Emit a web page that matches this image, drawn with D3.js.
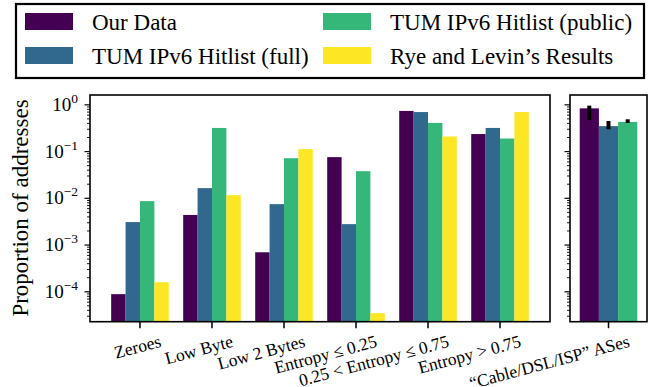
<!DOCTYPE html>
<html>
<head>
<meta charset="utf-8">
<script src="https://cdn.jsdelivr.net/npm/d3@7"></script>
<style>
  body { margin: 0; background: #fff; }
  svg { display: block; }
  text { font-family: 'Times New Roman', Times, 'Liberation Serif', Tinos, 'Nimbus Roman', FreeSerif, 'Noto Serif', 'DejaVu Serif', serif; }
</style>
</head>
<body>
<svg id="chart" width="658" height="387"></svg>
<script>
// series names + viridis colours
const series = ["Our Data", "TUM IPv6 Hitlist (full)", "TUM IPv6 Hitlist (public)", "Rye and Levin\u2019s Results"];
const colors = ["#440154", "#31688e", "#35b779", "#fde725"];

// left panel categories
const categories = ["Zeroes", "Low Byte", "Low 2 Bytes", "Entropy \u2264 0.25", "0.25 < Entropy \u2264 0.75", "Entropy > 0.75"];

// values per series
const ourData   = [8.9e-5, 4.4e-3, 7.0e-4, 0.076, 0.74, 0.237];
const tumFull   = [3.1e-3, 0.0165, 7.5e-3, 2.8e-3, 0.70, 0.32];
const tumPublic = [8.7e-3, 0.32, 0.072, 0.038, 0.41, 0.19];
const ryeLevin  = [1.6e-4, 0.0117, 0.113, 3.5e-5, 0.21, 0.70];

// right panel: one category, three series with error bars
const rightCategory = "\u201cCable/DSL/ISP\u201d ASes";
const rightValues = [0.84, 0.35, 0.43];
const rightLow    = [0.47, 0.30, 0.41];
const rightHigh   = [0.96, 0.45, 0.49];

const yTickLabels = ["0", "\u22121", "\u22122", "\u22123", "\u22124"];

const svg = d3.select("#chart");

// layout
const plotTop = 95, plotBottom = 321.7;
const left1 = 90, right1 = 550;
const left2 = 570, right2 = 647;

const y = d3.scaleLog().domain([Math.pow(10, -4.64), Math.pow(10, 0.21)]).range([plotBottom, plotTop]);
const x1 = d3.scaleLinear().domain([-0.694, 5.694]).range([left1, right1]);
const x2 = d3.scaleLinear().domain([-0.535, 0.535]).range([left2, right2]);

const allSeries = [ourData, tumFull, tumPublic, ryeLevin];
const bw1 = 0.2;
const bars1 = [];
allSeries.forEach((vals, s) => {
  vals.forEach((v, i) => bars1.push({ s, i, v, x: i + (s - 1.5) * bw1 }));
});

svg.append("g").selectAll("rect")
  .data(bars1)
  .enter().append("rect")
    .attr("x", d => x1(d.x - bw1 / 2))
    .attr("width", d => x1(d.x + bw1 / 2) - x1(d.x - bw1 / 2))
    .attr("y", d => y(d.v))
    .attr("height", d => plotBottom - y(d.v))
    .attr("fill", d => colors[d.s]);

const bw2 = 0.8 / 3;
const bars2 = rightValues.map((v, s) => ({ s, v, lo: rightLow[s], hi: rightHigh[s], x: (s - 1) * bw2 }));

svg.append("g").selectAll("rect")
  .data(bars2)
  .enter().append("rect")
    .attr("x", d => x2(d.x - bw2 / 2))
    .attr("width", d => x2(d.x + bw2 / 2) - x2(d.x - bw2 / 2))
    .attr("y", d => y(d.v))
    .attr("height", d => plotBottom - y(d.v))
    .attr("fill", d => colors[d.s]);

svg.append("g").selectAll("line")
  .data(bars2)
  .enter().append("line")
    .attr("x1", d => x2(d.x)).attr("x2", d => x2(d.x))
    .attr("y1", d => y(d.lo)).attr("y2", d => y(d.hi))
    .attr("stroke", "#000").attr("stroke-width", 4);

// log ticks
const [dmin, dmax] = y.domain();
const majors = [], minors = [];
for (let k = -5; k <= 0; k++) {
  const b = Math.pow(10, k);
  if (b >= dmin && b <= dmax) majors.push(b);
  for (let m = 2; m <= 9; m++) {
    const v = m * b;
    if (v >= dmin && v <= dmax) minors.push(v);
  }
}

function yTicks(xpos) {
  const g = svg.append("g");
  g.selectAll(".maj").data(majors).enter().append("line")
    .attr("x1", xpos - 5.5).attr("x2", xpos)
    .attr("y1", d => y(d)).attr("y2", d => y(d))
    .attr("stroke", "#000").attr("stroke-width", 1.2);
  g.selectAll(".min").data(minors).enter().append("line")
    .attr("x1", xpos - 3).attr("x2", xpos)
    .attr("y1", d => y(d)).attr("y2", d => y(d))
    .attr("stroke", "#000").attr("stroke-width", 0.9);
}
yTicks(left1);
yTicks(left2);

// y tick labels
const ylab = svg.append("g").selectAll("text")
  .data(majors.slice().reverse())
  .enter().append("text")
    .attr("x", 78)
    .attr("y", d => y(d) + 6)
    .attr("text-anchor", "end")
    .attr("font-size", 19);
ylab.append("tspan").text("10");
ylab.append("tspan")
  .attr("dy", -8).attr("font-size", 13.5)
  .text((d, i) => yTickLabels[i]);

// x ticks
function xTick(xpos) {
  svg.append("line")
    .attr("x1", xpos).attr("x2", xpos)
    .attr("y1", plotBottom).attr("y2", plotBottom + 6.5)
    .attr("stroke", "#000").attr("stroke-width", 1.5);
}
categories.forEach((c, i) => xTick(x1(i)));
xTick(x2(0));

function xLabel(txt, xpos) {
  const ax = xpos + 22, ay = 346.5;
  svg.append("text")
    .attr("x", ax).attr("y", ay)
    .attr("text-anchor", "end")
    .attr("font-size", 17.5)
    .attr("transform", `rotate(-15,${ax},${ay})`)
    .text(txt);
}
categories.forEach((c, i) => xLabel(c, x1(i)));
xLabel(rightCategory, x2(0));

// spines
svg.append("rect").attr("x", left1).attr("y", plotTop)
  .attr("width", right1 - left1).attr("height", plotBottom - plotTop)
  .attr("fill", "none").attr("stroke", "#000").attr("stroke-width", 1.6);
svg.append("rect").attr("x", left2).attr("y", plotTop)
  .attr("width", right2 - left2).attr("height", plotBottom - plotTop)
  .attr("fill", "none").attr("stroke", "#000").attr("stroke-width", 1.6);

// y axis label
svg.append("text")
  .attr("transform", "translate(28,208) rotate(-90)")
  .attr("text-anchor", "middle")
  .attr("font-size", 23)
  .text("Proportion of addresses");

// legend
const legend = svg.append("g");
legend.append("rect")
  .attr("x", 16).attr("y", 4).attr("width", 628).attr("height", 74)
  .attr("fill", "#fff").attr("stroke", "#000").attr("stroke-width", 2.2);
const legPos = [[25, 13], [25, 47], [323, 13], [323, 47]];
series.forEach((name, s) => {
  const [lx, ly] = legPos[s];
  legend.append("rect")
    .attr("x", lx).attr("y", ly).attr("width", 48).attr("height", 17)
    .attr("fill", colors[s]);
  legend.append("text")
    .attr("x", lx + 67).attr("y", ly + 16.5)
    .attr("font-size", 23)
    .text(name);
});
</script>
</body>
</html>
